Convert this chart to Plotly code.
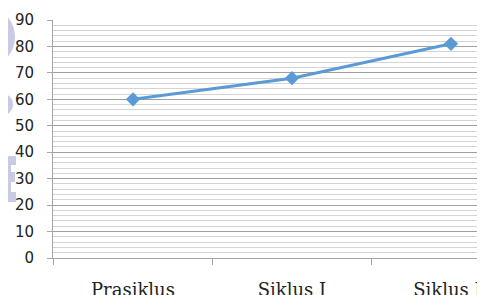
import plotly.graph_objects as go

categories = ["Prasiklus", "Siklus I", "Siklus II"]
values = [60, 68, 81]
y_tick_values = [0, 10, 20, 30, 40, 50, 60, 70, 80, 90]

OFF = 8  # browser default body margin
W, H = 485 - OFF, 295 - OFF
L, T, B, R = 53 - OFF, 20 - OFF, 37, 0
pw, ph = W - L - R, H - T - B

def px(x):
    return (x - OFF - L) / pw

def py(y):
    return (H - B - (y - OFF)) / ph

fig = go.Figure()
fig.add_trace(go.Scatter(
    x=categories, y=values, mode="lines+markers",
    line=dict(color="#5b9bd5", width=3),
    marker=dict(symbol="diamond", size=11, color="#5b9bd5"),
    cliponaxis=False, showlegend=False,
))

wm = "#c9cbe6"
shapes = [
    dict(type="circle", xref="paper", yref="paper", x0=px(-30), x1=px(15), y0=py(64), y1=py(10),
         fillcolor=wm, line=dict(width=0), layer="below"),
    dict(type="circle", xref="paper", yref="paper", x0=px(-12), x1=px(13), y0=py(116), y1=py(93),
         fillcolor=wm, line=dict(width=0), layer="below"),
    dict(type="path", xref="paper", yref="paper",
         path=(f"M {px(8)},{py(156)} L {px(16)},{py(156)} L {px(16)},{py(165)} L {px(11)},{py(165)} "
               f"L {px(11)},{py(172)} L {px(15)},{py(172)} L {px(15)},{py(182)} L {px(11)},{py(182)} "
               f"L {px(11)},{py(192)} L {px(16)},{py(192)} L {px(16)},{py(202)} L {px(8)},{py(202)} Z"),
         fillcolor=wm, line=dict(width=0), layer="below"),
]

fig.update_layout(
    width=W, height=H,
    margin=dict(l=L, r=R, t=T, b=B, pad=0, autoexpand=False),
    paper_bgcolor="white", plot_bgcolor="white",
    shapes=shapes,
    xaxis=dict(
        type="category", range=[-0.503, 2.214], automargin=False,
        showgrid=False, zeroline=False,
        showline=True, linecolor="#a6a6a6", linewidth=1,
        ticks="outside", tickson="boundaries", ticklen=6, tickcolor="#a6a6a6",
        tickfont=dict(family="DejaVu Serif", size=18, color="#222222"),
        ticklabelstandoff=15,
    ),
    yaxis=dict(
        range=[0, 90], tickvals=y_tick_values, automargin=False,
        showgrid=True, gridcolor="#a0a0a0", gridwidth=1,
        minor=dict(dtick=2, showgrid=True, gridcolor="#d4d4d4", gridwidth=1),
        zeroline=False,
        showline=True, linecolor="#a6a6a6", linewidth=1,
        ticks="outside", ticklen=5, tickcolor="#a6a6a6",
        tickfont=dict(family="DejaVu Sans", size=15, color="#222222"),
        ticklabelstandoff=10,
    ),
)

fig.write_html("out.html")
